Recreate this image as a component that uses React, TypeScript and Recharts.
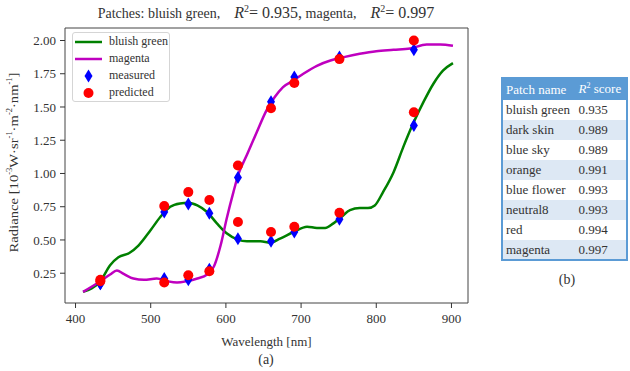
import { ComposedChart, Line, Scatter, XAxis, YAxis, Legend, ReferenceArea } from 'recharts';

const FONT = '"Liberation Serif", "Times New Roman", serif';
const GREEN = '#008000';
const MAGENTA = '#bf00bf';

const X_DOMAIN = [386, 922];
const Y_DOMAIN = [0.026, 2.094];
const X_TICKS = [400, 500, 600, 700, 800, 900];
const Y_TICKS = [0.25, 0.5, 0.75, 1.0, 1.25, 1.5, 1.75, 2.0];

// spectra
const GREEN_WL = [410, 433, 446, 457, 471, 484, 500, 513, 526, 539, 550, 562, 575, 588, 601, 615, 628, 646, 659, 672, 690, 708, 721, 732, 743, 754, 765, 778, 789, 798, 809, 823, 836, 849, 863, 876, 889, 902];
const GREEN_VAL = [0.11, 0.19, 0.31, 0.37, 0.40, 0.46, 0.575, 0.675, 0.75, 0.775, 0.78, 0.76, 0.71, 0.625, 0.55, 0.505, 0.49, 0.49, 0.48, 0.51, 0.56, 0.60, 0.59, 0.59, 0.625, 0.675, 0.725, 0.74, 0.74, 0.76, 0.86, 1.01, 1.20, 1.375, 1.54, 1.675, 1.775, 1.83];
const MAGENTA_WL = [410, 433, 446, 455, 464, 477, 491, 508, 522, 535, 548, 562, 575, 584, 593, 601, 610, 617, 628, 641, 654, 665, 676, 690, 703, 721, 739, 757, 778, 800, 823, 845, 867, 885, 902];
const MAGENTA_VAL = [0.11, 0.19, 0.24, 0.27, 0.245, 0.21, 0.20, 0.21, 0.19, 0.18, 0.19, 0.21, 0.24, 0.30, 0.46, 0.66, 0.86, 1.00, 1.14, 1.31, 1.475, 1.575, 1.65, 1.70, 1.75, 1.81, 1.85, 1.875, 1.90, 1.92, 1.93, 1.94, 1.97, 1.97, 1.96];

// filter bands
const BAND_WL = [433, 518, 550, 578, 616, 660, 691, 751, 850];
const GREEN_MEASURED = [0.17, 0.71, 0.77, 0.70, 0.51, 0.49, 0.56, 0.655, 1.36];
const MAGENTA_MEASURED = [0.17, 0.21, 0.20, 0.28, 0.97, 1.54, 1.725, 1.875, 1.93];
const GREEN_PREDICTED = [0.20, 0.755, 0.86, 0.80, 0.635, 0.56, 0.60, 0.705, 1.46];
const MAGENTA_PREDICTED = [0.19, 0.18, 0.235, 0.265, 1.06, 1.49, 1.68, 1.86, 2.0];

const PATCH_NAMES = ['bluish green', 'dark skin', 'blue sky', 'orange', 'blue flower', 'neutral8', 'red', 'magenta'];
const PATCH_R2 = ['0.935', '0.989', '0.989', '0.991', '0.993', '0.993', '0.994', '0.997'];

const zip = (xs: number[], ys: number[]) => xs.map((x, i) => ({ x, y: ys[i] }));

const greenLine = zip(GREEN_WL, GREEN_VAL);
const magentaLine = zip(MAGENTA_WL, MAGENTA_VAL);
const measured = [...zip(BAND_WL, GREEN_MEASURED), ...zip(BAND_WL, MAGENTA_MEASURED)];
const predicted = [...zip(BAND_WL, GREEN_PREDICTED), ...zip(BAND_WL, MAGENTA_PREDICTED)];

const Diamond = (p: any) => {
    const { cx, cy } = p;
    return <polygon points={`${cx},${cy - 6.5} ${cx + 4},${cy} ${cx},${cy + 6.5} ${cx - 4},${cy}`} fill="#0000ff" />;
};
const Dot = (p: any) => <circle cx={p.cx} cy={p.cy} r={5} fill="#ff0000" />;

const sup = (s: string) => <tspan dy={-4} fontSize={7.5}>{s}</tspan>;

const YLabel = (props: any) => {
    const vb = props.viewBox || { x: 10, y: 28, height: 275 };
    const x = vb.x + 3;
    const y = vb.y + vb.height / 2 - 3;
    return (
        <text x={x} y={y} transform={`rotate(-90 ${x} ${y})`} textAnchor="middle" dominantBaseline="central"
            fontSize={13} fill="#333" style={{ fontFamily: FONT }} textLength={180} lengthAdjust="spacingAndGlyphs">
            Radiance [10{sup('-3')}<tspan dy={4}>W·sr</tspan>{sup('-1')}<tspan dy={4}>·m</tspan>{sup('-2')}<tspan dy={4}>·nm</tspan>{sup('-1')}<tspan dy={4}>]</tspan>
        </text>
    );
};

const LegendBox = () => {
    const row = { display: 'flex', alignItems: 'center', height: 17 } as const;
    const label = { marginLeft: 7 };
    return (
        <div style={{ width: 98, height: 70, boxSizing: 'border-box', border: '1px solid #d5d5d5', borderRadius: 3,
            background: 'rgba(255,255,255,0.85)', padding: '0 0 0 2px', fontFamily: FONT, fontSize: 12, color: '#333' }}>
            <div style={row}><svg width={27} height={6}><line x1={0} y1={3} x2={27} y2={3} stroke={GREEN} strokeWidth={2.5} /></svg><span style={label}>bluish green</span></div>
            <div style={row}><svg width={27} height={6}><line x1={0} y1={3} x2={27} y2={3} stroke={MAGENTA} strokeWidth={2.5} /></svg><span style={label}>magenta</span></div>
            <div style={row}><svg width={27} height={14}><polygon points="13.5,0.5 17.5,7 13.5,13.5 9.5,7" fill="#0000ff" /></svg><span style={label}>measured</span></div>
            <div style={row}><svg width={27} height={12}><circle cx={13.5} cy={6} r={5} fill="#ff0000" /></svg><span style={label}>predicted</span></div>
        </div>
    );
};

const mathStyle = { fontSize: 16, marginLeft: 14 };

export default function App() {
    const tick = { fontSize: 13, fill: '#333', style: { fontFamily: FONT } };
    return (
        <div style={{ position: 'absolute', left: 0, top: 0, width: 630, height: 371, background: '#fff', fontFamily: FONT }}>
            <div style={{ position: 'absolute', left: 0, top: 3, width: 532, textAlign: 'center', fontSize: 14, color: '#333', whiteSpace: 'nowrap' }}>
                Patches: bluish green,
                <span style={mathStyle}><i>R</i><sup style={{ fontSize: 10 }}>2</sup>= 0.935,</span> magenta,
                <span style={mathStyle}><i>R</i><sup style={{ fontSize: 10 }}>2</sup>= 0.997</span>
            </div>
            <div style={{ position: 'absolute', left: 0, top: 0 }}>
                <ComposedChart width={480} height={371} margin={{ top: 28, right: 12, bottom: 48, left: 10 }} style={{ fontFamily: FONT }}>
                    <XAxis dataKey="x" type="number" domain={X_DOMAIN} ticks={X_TICKS} allowDataOverflow
                        tick={tick} tickSize={5} tickMargin={6} axisLine={false} stroke="#333" height={20}
                        label={{ value: 'Wavelength [nm]', position: 'bottom', offset: 14, fontSize: 13, fill: '#333', style: { fontFamily: FONT } }} />
                    <YAxis dataKey="y" type="number" domain={Y_DOMAIN} ticks={Y_TICKS} allowDataOverflow
                        tickFormatter={(v: number) => v.toFixed(2)} tick={tick} tickSize={5} tickMargin={4} axisLine={false}
                        stroke="#333" width={55} label={{ content: YLabel }} />
                    <ReferenceArea x1={X_DOMAIN[0]} x2={X_DOMAIN[1]} y1={Y_DOMAIN[0]} y2={Y_DOMAIN[1]}
                        fill="none" fillOpacity={0} stroke="#444" strokeWidth={1} strokeOpacity={1} />
                    <Line data={greenLine} dataKey="y" type="monotone" stroke={GREEN} strokeWidth={2.5} dot={false} isAnimationActive={false} />
                    <Line data={magentaLine} dataKey="y" type="monotone" stroke={MAGENTA} strokeWidth={2.5} dot={false} isAnimationActive={false} />
                    <Scatter data={measured} dataKey="y" shape={Diamond} isAnimationActive={false} />
                    <Scatter data={predicted} dataKey="y" shape={Dot} isAnimationActive={false} />
                    <Legend layout="horizontal" verticalAlign="middle" align="center" content={() => <LegendBox />}
                        wrapperStyle={{ left: 72, top: 32, width: 'auto', height: 'auto' }} />
                </ComposedChart>
            </div>
            <div style={{ position: 'absolute', left: 0, top: 352, width: 532, textAlign: 'center', fontSize: 14, color: '#333' }}>(a)</div>

            <table style={{ position: 'absolute', left: 501, top: 77, width: 127, borderCollapse: 'collapse',
                border: '2px solid #5b9bd5', fontSize: 13, color: '#333' }}>
                <thead>
                    <tr style={{ background: '#5b9bd5', color: '#fff', height: 22 }}>
                        <th style={{ fontWeight: 'normal', textAlign: 'left', padding: '0 3px' }}>Patch name</th>
                        <th style={{ fontWeight: 'normal', textAlign: 'left', padding: '0 3px' }}><i>R</i><sup style={{ fontSize: 8 }}>2</sup> score</th>
                    </tr>
                </thead>
                <tbody>
                    {PATCH_NAMES.map((n, i) => (
                        <tr key={n} style={{ background: i % 2 ? '#dde8f4' : '#fff', height: 20 }}>
                            <td style={{ padding: '0 3px', whiteSpace: 'nowrap' }}>{n}</td>
                            <td style={{ padding: '0 3px' }}>{PATCH_R2[i]}</td>
                        </tr>
                    ))}
                </tbody>
            </table>
            <div style={{ position: 'absolute', left: 547, top: 272, width: 40, textAlign: 'center', fontSize: 14, color: '#333' }}>(b)</div>
        </div>
    );
}
